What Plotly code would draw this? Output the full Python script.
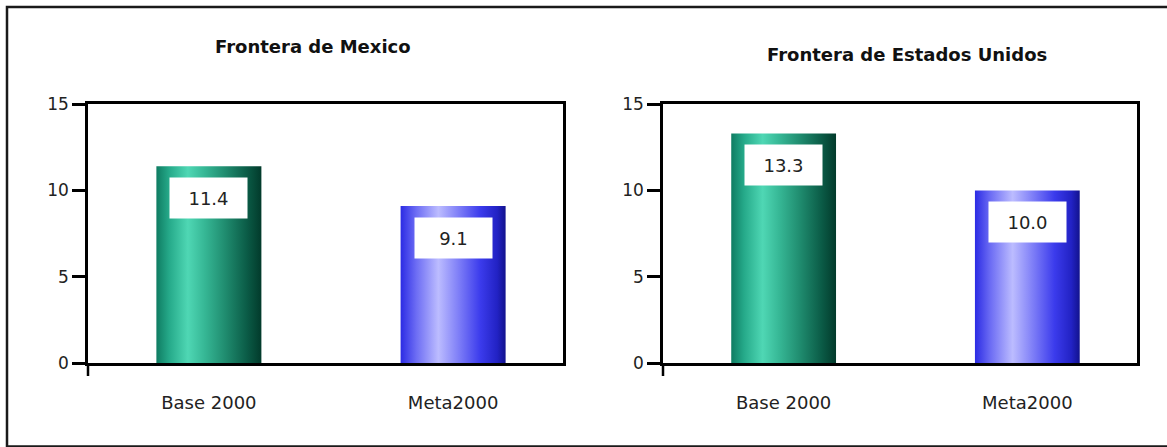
import plotly.graph_objects as go

# Data
categories = ["Base 2000", "Meta2000"]
panel_titles = ["Frontera de Mexico", "Frontera de Estados Unidos"]
mexico_values = [11.4, 9.1]
usa_values = [13.3, 10.0]
value_text_mexico = ["11.4", "9.1"]
value_text_usa = ["13.3", "10.0"]
y_ticks = [0, 5, 10, 15]

W, H = 1167, 447
BAR_W = 0.43
FONT = "DejaVu Sans"

green_scale = [
    [0.0, "#0f7c62"], [0.12, "#25a989"], [0.30, "#4fd7b4"], [0.46, "#36b795"],
    [0.66, "#1f8b6e"], [0.86, "#0b5c47"], [1.0, "#023a2b"],
]
blue_scale = [
    [0.0, "#2b2be4"], [0.15, "#6d6df4"], [0.36, "#bcbcff"], [0.56, "#7c7cf7"],
    [0.76, "#3b3bec"], [0.92, "#2222c4"], [1.0, "#12128e"],
]
bar_scales = [green_scale, blue_scale]

fig = go.Figure()

panels = [
    (mexico_values, value_text_mexico, "x", "y"),
    (usa_values, value_text_usa, "x2", "y2"),
]

for values, texts, xa, ya in panels:
    for i, v in enumerate(values):
        x0, x1 = i - BAR_W / 2, i + BAR_W / 2
        fig.add_trace(go.Scatter(
            x=[x0, x0, x1, x1, x0], y=[0, v, v, 0, 0],
            xaxis=xa, yaxis=ya, mode="lines", line=dict(width=0),
            fill="toself",
            fillgradient=dict(type="horizontal", colorscale=bar_scales[i]),
            hoverinfo="skip", showlegend=False,
        ))
        fig.add_annotation(
            x=i, y=v, xref=xa, yref=ya, text=texts[i],
            showarrow=False, xanchor="center", yanchor="top", yshift=-11,
            width=77, height=40, bgcolor="white", borderpad=0,
            font=dict(family=FONT, size=18, color="#222222"),
        )

x_domains = [[88 / W, 563 / W], [663 / W, 1137 / W]]
y_domain = [1 - 363.3 / H, 1 - 104 / H]

axis_common = dict(showline=True, mirror=True, linecolor="black", linewidth=2.5,
                   showgrid=False, zeroline=False, automargin=False)

for k, (xa, ya) in enumerate([("xaxis", "yaxis"), ("xaxis2", "yaxis2")]):
    fig.update_layout(**{
        xa: dict(domain=x_domains[k], range=[-0.495, 1.45], tickmode="array",
                 tickvals=[0, 1], ticktext=categories, ticks="",
                 ticklabelstandoff=21, anchor="y" if k == 0 else "y2",
                 tickfont=dict(family=FONT, size=18, color="#222222"),
                 **axis_common),
        ya: dict(domain=y_domain, range=[0, 15], tickmode="array",
                 tickvals=y_ticks, ticks="outside", ticklen=13, tickwidth=2.5,
                 tickcolor="black", anchor="x" if k == 0 else "x2",
                 tickfont=dict(family=FONT, size=17, color="#222222"),
                 **axis_common),
    })

# Panel titles
fig.add_annotation(x=313 / W, y=1 - 46 / H, xref="paper", yref="paper",
                   xanchor="center", yanchor="middle",
                   text="<b>" + panel_titles[0] + "</b>", showarrow=False,
                   font=dict(family=FONT, size=18, color="#111111"))
fig.add_annotation(x=907 / W, y=1 - 54 / H, xref="paper", yref="paper",
                   xanchor="center", yanchor="middle",
                   text="<b>" + panel_titles[1] + "</b>", showarrow=False,
                   font=dict(family=FONT, size=18, color="#111111"))

# Y axis lines run a little below the zero line
for xpix in (88, 663):
    fig.add_shape(type="line", xref="paper", yref="paper",
                  x0=xpix / W, x1=xpix / W, y0=1 - 363.3 / H, y1=1 - 376 / H,
                  line=dict(color="black", width=2.5))

# Outer frame
fig.add_shape(type="rect", xref="paper", yref="paper",
              x0=7 / W, x1=1.01, y0=1 - 446.5 / H, y1=1 - 7 / H,
              line=dict(color="#1a1a1a", width=2.5))

fig.update_layout(
    width=W, height=H, margin=dict(l=0, r=0, t=0, b=0, autoexpand=False),
    paper_bgcolor="white", plot_bgcolor="white", showlegend=False,
)

fig.write_html("out.html")
